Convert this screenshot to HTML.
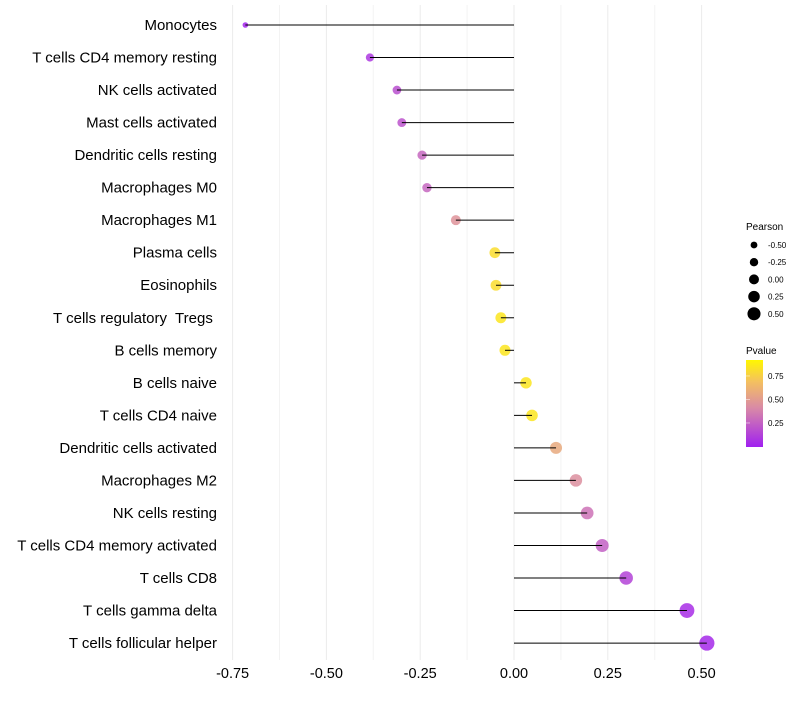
<!DOCTYPE html>
<html><head><meta charset="utf-8"><style>body{margin:0;background:#fff}svg{font-family:"Liberation Sans",sans-serif}</style></head>
<body>
<svg id="c" width="800" height="700">
<defs><linearGradient id="pg" x1="0" y1="1" x2="0" y2="0">
<stop offset="0" stop-color="#A020F0"/><stop offset="0.45" stop-color="#D98AA6"/><stop offset="0.75" stop-color="#F4C060"/><stop offset="1" stop-color="#FFF700"/></linearGradient></defs>
</svg>
<script>
const categories=["Monocytes","T cells CD4 memory resting","NK cells activated","Mast cells activated","Dendritic cells resting","Macrophages M0","Macrophages M1","Plasma cells","Eosinophils","T cells regulatory  Tregs ","B cells memory","B cells naive","T cells CD4 naive","Dendritic cells activated","Macrophages M2","NK cells resting","T cells CD4 memory activated","T cells CD8","T cells gamma delta","T cells follicular helper"];
const pearson=[-0.716,-0.384,-0.312,-0.299,-0.245,-0.232,-0.155,-0.051,-0.048,-0.035,-0.024,0.032,0.048,0.112,0.165,0.195,0.235,0.299,0.461,0.514];
const pvalue=[0.02,0.1,0.2,0.22,0.3,0.3,0.5,0.88,0.88,0.92,0.92,0.92,0.92,0.62,0.48,0.35,0.27,0.15,0.06,0.04];
const xTicks=[-0.75,-0.5,-0.25,0,0.25,0.5];
const xTickLabels=["-0.75","-0.50","-0.25","0.00","0.25","0.50"];
const sizeLegend=[-0.5,-0.25,0,0.25,0.5];
const sizeLegendLabels=["-0.50","-0.25","0.00","0.25","0.50"];
const pTicks=[0.25,0.5,0.75];
const svg=document.getElementById('c');const NS='http://www.w3.org/2000/svg';
const x=v=>514+v*375.2, y=i=>25+i*32.53, r=v=>Math.max(1.5,5.6+3.9*v);
const stops=[[0,[160,32,240]],[0.45,[217,138,166]],[0.75,[244,192,96]],[1,[255,247,0]]];
function col(p){for(let k=1;k<stops.length;k++){if(p<=stops[k][0]){const a=stops[k-1],b=stops[k],t=(p-a[0])/(b[0]-a[0]);return 'rgb('+a[1].map((c,j)=>Math.round(c+(b[1][j]-c)*t)).join(',')+')';}}return 'rgb(255,247,0)';}
function el(t,a,txt){const e=document.createElementNS(NS,t);for(const k in a)e.setAttribute(k,a[k]);if(txt!=null)e.textContent=txt;svg.appendChild(e);return e;}
for(let v=-0.75;v<=0.5001;v+=0.125){const major=Math.abs((v*4)%1)<0.01;const g=el('line',{x1:x(v),x2:x(v),y1:5,y2:660,stroke:major?'#ebebeb':'#f3f3f3','stroke-width':1});}
xTicks.forEach((v,i)=>{const t=el('text',{x:x(v),y:678,'text-anchor':'middle','font-size':14.5,fill:'#000'},xTickLabels[i]);});
categories.forEach((c,i)=>{
const t=el('text',{x:217,y:y(i)+5,'text-anchor':'end','font-size':15,fill:'#000'},c);
t.setAttribute('style','white-space:pre');
const d=el('circle',{cx:x(pearson[i]),cy:y(i),r:r(pearson[i]),fill:col(pvalue[i]),'fill-opacity':0.85});
const l=el('line',{x1:x(0),x2:x(pearson[i]),y1:y(i),y2:y(i),stroke:'#000','stroke-width':1});
});
let lt=el('text',{x:746,y:230,'font-size':10},'Pearson');
sizeLegend.forEach((v,i)=>{const yy=245+i*17.2;const c=el('circle',{cx:754,cy:yy,r:r(v)*0.8+0.5,fill:'#000'});
const t=el('text',{x:768,y:yy+3,'font-size':8},sizeLegendLabels[i]);});
lt=el('text',{x:746,y:354,'font-size':10},'Pvalue');
const bar=el('rect',{x:746,y:360,width:17,height:87,fill:'url(#pg)'});
const py=p=>446-(p-0.005)/0.25*23.5;
pTicks.forEach(p=>{const t=el('text',{x:768,y:py(p)+3,'font-size':8},p.toFixed(2));
const tk=el('line',{x1:746,x2:750,y1:py(p),y2:py(p),stroke:'#fff','stroke-width':0.8,opacity:0.6});});
</script>
</body></html>
